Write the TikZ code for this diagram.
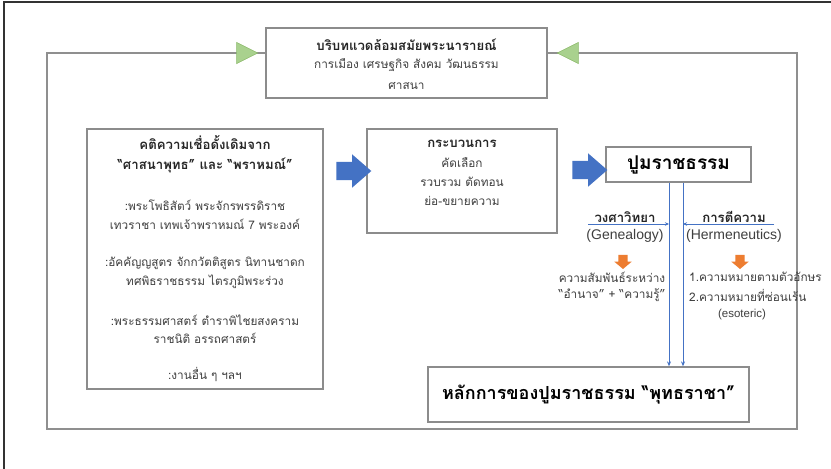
\documentclass[tikz,border=0pt]{standalone}
\usepackage{fontspec}
\setmainfont{Liberation Sans}
\newfontfamily\thai[Script=Thai]{Loma}
\usetikzlibrary{arrows.meta,shapes.arrows,calc}
\definecolor{boxgray}{HTML}{8C8C8C}
\definecolor{framegray}{HTML}{8F8F8F}
\definecolor{txtgray}{HTML}{3F3F3F}
\definecolor{bblue}{HTML}{4472C4}
\definecolor{borange}{HTML}{ED7D31}
\definecolor{tgreen}{HTML}{A9D18E}
\definecolor{tgreenD}{HTML}{8DBB6C}
\begin{document}
\begin{tikzpicture}[x=1pt,y=-1pt,
  box/.style={draw=boxgray,line width=1.3pt,fill=white,inner sep=0pt},
  frameline/.style={draw=framegray,line width=1.6pt},
  txt/.style={font=\thai\fontsize{11.8}{13}\selectfont,text=txtgray,inner sep=0pt},
  tbold/.style={font=\thai\bfseries\fontsize{13.2}{15}\selectfont,text=black!85,inner sep=0pt},
  lat/.style={font=\fontsize{14}{16}\selectfont,text=txtgray,inner sep=0pt},
  latsmall/.style={font=\fontsize{11.5}{13}\selectfont,text=txtgray,inner sep=0pt},
  bigbold/.style={font=\thai\bfseries\fontsize{19}{22}\selectfont,text=black,inner sep=0pt},
  bigbolda/.style={font=\thai\bfseries\fontsize{18}{21}\selectfont,text=black,inner sep=0pt},
  bluearrow/.style={single arrow,fill=bblue,draw=none,minimum width=33pt,minimum height=35pt,
    single arrow head extend=7.5pt,single arrow tip angle=82,inner sep=9pt},
  orangearrow/.style={single arrow,fill=borange,draw=none,minimum width=17pt,minimum height=14pt,
    single arrow head extend=4pt,single arrow tip angle=100,inner sep=4.5pt,shape border rotate=270},
  vline/.style={draw=bblue,line width=0.9pt,-{Stealth[length=5pt,width=4pt]}},
  hline/.style={draw=bblue,line width=0.9pt,-{Stealth[length=4pt,width=3.5pt]}},
  greentip/.style={draw=framegray,line width=1.6pt,-{Triangle[length=22pt,width=22pt,fill=tgreen,color=tgreenD,line width=0.6pt]}}
]
\fill[white] (0,0) rectangle (831,469);
\useasboundingbox (0,0) rectangle (831,469);
% screenshot edges
\draw[black!80,line width=1.2pt] (4,469) -- (4,2) -- (831,2);

% boxes
\node[box,minimum width=281pt,minimum height=70pt] (ctx) at (406.5,63) {};
\node[box,minimum width=236pt,minimum height=260pt] (belief) at (205,259) {};
\node[box,minimum width=190pt,minimum height=104pt] (proc) at (462,181) {};
\node[box,minimum width=145pt,minimum height=35pt] (puum) at (678.5,164.5) {};
\node[box,minimum width=321pt,minimum height=55pt] (principle) at (588.5,394.5) {};

% feedback frame
\coordinate (fTL) at (47,53);
\coordinate (fTR) at (797,53);
\coordinate (fBL) at (47,429);
\coordinate (fBR) at (797,429);
\draw[frameline] (ctx.west |- fTL) -- (fTL) -- (fBL) -- (fBR) -- (fTR) -- (ctx.east |- fTR);
\draw[greentip] ($(ctx.west |- fTL)+(-40,0)$) -- ($(ctx.west |- fTL)+(-7,0)$);
\draw[greentip] ($(ctx.east |- fTR)+(40,0)$) -- ($(ctx.east |- fTR)+(9,0)$);

% context box text
\node[tbold] (ctx1) at (406.5,45) {บริบทแวดล้อมสมัยพระนารายณ์};
\node[txt] (ctx2) at (406.5,65) {การเมือง เศรษฐกิจ สังคม วัฒนธรรม};
\node[txt] (ctx3) at (406.5,86) {ศาสนา};

% belief box text
\node[tbold] (b1) at (205,143) {คติความเชื่อดั้งเดิมจาก};
\node[tbold] (b2) at (205,165) {“ศาสนาพุทธ” และ “พราหมณ์”};
\node[txt] (b3) at (205,205) {:พระโพธิสัตว์ พระจักรพรรดิราช};
\node[txt] (b4) at (205,224) {เทวราชา เทพเจ้าพราหมณ์ 7 พระองค์};
\node[txt] (b5) at (205,263) {:อัคคัญญสูตร จักกวัตติสูตร นิทานชาดก};
\node[txt] (b6) at (205,282) {ทศพิธราชธรรม ไตรภูมิพระร่วง};
\node[txt] (b7) at (205,320) {:พระธรรมศาสตร์ ตำราพิไชยสงคราม};
\node[txt] (b8) at (205,338) {ราชนิติ อรรถศาสตร์};
\node[txt] (b9) at (205,375) {:งานอื่น ๆ ฯลฯ};

% process box text
\node[tbold] (p1) at (462,144) {กระบวนการ};
\node[txt] (p2) at (462,163) {คัดเลือก};
\node[txt] (p3) at (462,182) {รวบรวม ตัดทอน};
\node[txt] (p4) at (462,201) {ย่อ-ขยายความ};

% main titles
\node[bigbold] (puumt) at (puum) {ปูมราชธรรม};
\node[bigbolda] (principlet) at (principle) {หลักการของปูมราชธรรม “พุทธราชา”};

% block arrows
\node[bluearrow] (ba1) at (348.5,171) {};
\node[bluearrow] (ba2) at (584.5,170) {};

% vertical lines
\coordinate (v1) at (669,0);
\coordinate (v2) at (683,0);
\draw[vline] (v1 |- puum.south) -- (v1 |- principle.north);
\draw[vline] (v2 |- puum.south) -- (v2 |- principle.north);

% genealogy
\node[tbold] (gen) at (625,217) {วงศาวิทยา};
\node[lat] (genl) at (625,236) {(Genealogy)};
\coordinate (g0) at (588,224);
\draw[hline] (g0) -- (v1 |- g0);
\node[orangearrow] (oa1) at (623,260) {};
\node[txt] (g1) at (612,277) {ความสัมพันธ์ระหว่าง};
\node[txt] (g2) at (612,295) {“อำนาจ” + “ความรู้”};

% hermeneutics
\node[tbold] (herm) at (734,217) {การตีความ};
\node[lat] (herml) at (734,236) {(Hermeneutics)};
\coordinate (h0) at (774,224);
\draw[hline] (h0) -- (v2 |- h0);
\node[orangearrow] (oa2) at (740,260) {};
\node[txt,anchor=west] (h1) at (689,277) {1.ความหมายตามตัวอักษร};
\node[txt,anchor=west] (h2) at (689,295) {2.ความหมายที่ซ่อนเร้น};
\node[latsmall] (h3) at (742,315) {(esoteric)};
\end{tikzpicture}
\end{document}
